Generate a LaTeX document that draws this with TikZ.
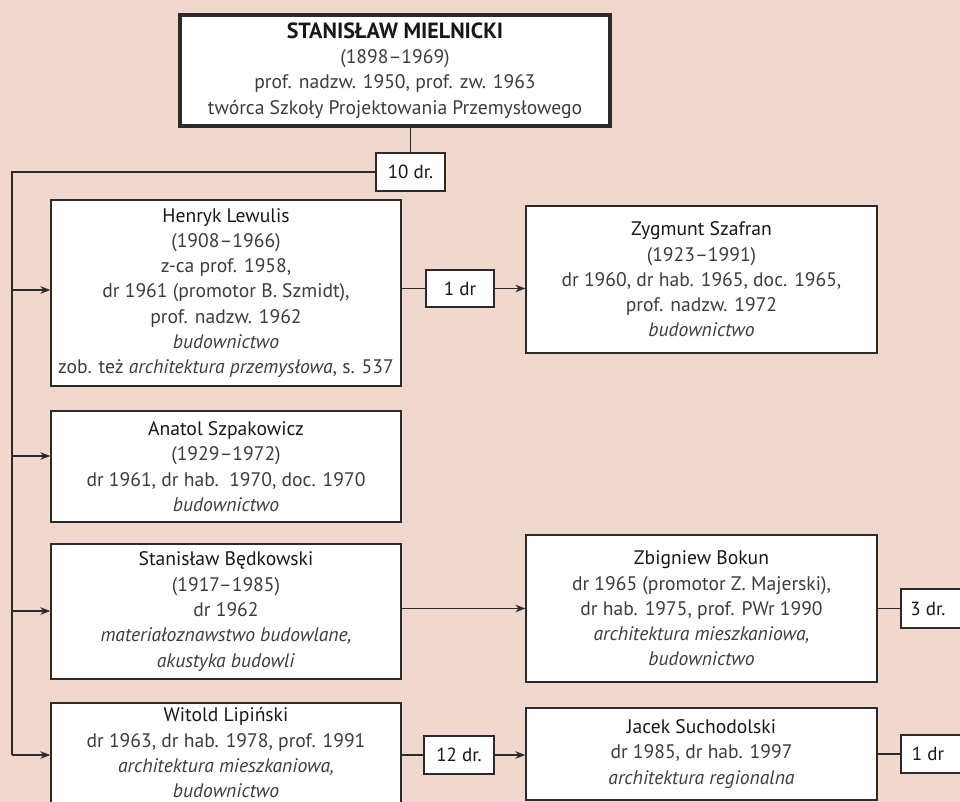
\documentclass[tikz,border=0pt]{standalone}
\usepackage{fontspec}
\setmainfont{PT Sans}
\usetikzlibrary{arrows.meta}

\definecolor{paper}{RGB}{240,216,206}
\definecolor{linec}{RGB}{45,42,42}
\definecolor{nametxt}{RGB}{25,23,23}
\definecolor{bodytxt}{RGB}{62,60,60}

\newcommand{\nm}[1]{{\color{nametxt}#1}}

\begin{document}
\begin{tikzpicture}[x=1pt,y=-1pt,
  person/.style={draw=linec, fill=white, line width=1.3pt, align=center,
    inner sep=0pt, text=bodytxt, font=\fontsize{19.6}{25.3}\selectfont},
  count/.style={draw=linec, fill=white, line width=1.3pt, inner sep=0pt,
    text=nametxt, font=\fontsize{19}{22}\selectfont},
  link/.style={draw=linec, line width=1.3pt},
  arr/.style={link, -{Stealth[length=10pt,width=7.5pt]}}]

\useasboundingbox (0,0) rectangle (960,802);
\clip (0,0) rectangle (960,802);
\fill[paper] (0,0) rectangle (960,802);

% founder
\node[person, line width=4pt, minimum width=430pt, minimum height=111pt] (top) at (395,70.5)
  {\nm{\fontsize{22}{25.3}\selectfont\bfseries STANISŁAW MIELNICKI}\\(1898–1969)\\prof. nadzw. 1950, prof. zw. 1963\\twórca Szkoły Projektowania Przemysłowego};

% doctoral students
\node[person, minimum width=350pt, minimum height=186pt] (lew) at (226,293)
  {\nm{Henryk Lewulis}\\(1908–1966)\\z-ca prof. 1958,\\dr 1961 (promotor B. Szmidt),\\prof. nadzw. 1962\\\textit{budownictwo}\\zob. też \textit{architektura przemysłowa}, s. 537};
\node[person, minimum width=350pt, minimum height=111pt] (szp) at (226,466.5)
  {\nm{Anatol Szpakowicz}\\(1929–1972)\\dr 1961, dr hab.\ \ 1970, doc. 1970\\\textit{budownictwo}};
\node[person, minimum width=350pt, minimum height=135pt] (bed) at (226,611.5)
  {\nm{Stanisław Będkowski}\\(1917–1985)\\dr 1962\\\textit{materiałoznawstwo budowlane,}\\\textit{akustyka budowli}};
\node[person, minimum width=350pt, minimum height=100pt] (lip) at (226,753)
  {\nm{Witold Lipiński}\\dr 1963, dr hab. 1978, prof. 1991\\\textit{architektura mieszkaniowa,}\\\textit{budownictwo}};

% next generation
\node[person, minimum width=351pt, minimum height=147pt] (sza) at (701.5,279.5)
  {\nm{Zygmunt Szafran}\\(1923–1991)\\dr 1960, dr hab. 1965, doc. 1965,\\prof. nadzw. 1972\\\textit{budownictwo}};
\node[person, minimum width=351pt, minimum height=147pt] (bok) at (701.5,608.5)
  {\nm{Zbigniew Bokun}\\dr 1965 (promotor Z. Majerski),\\dr hab. 1975, prof. PWr 1990\\\textit{architektura mieszkaniowa,}\\\textit{budownictwo}};
\node[person, minimum width=351pt, minimum height=92pt] (suc) at (701.5,754)
  {\nm{Jacek Suchodolski}\\dr 1985, dr hab. 1997\\\textit{architektura regionalna}};

% doctorate counts
\node[count, minimum width=69pt, minimum height=38pt] (c10) at (410.5,172) {10 dr.};
\node[count, minimum width=68pt, minimum height=37pt] (c1a) at (460,288.5) {1 dr};
\node[count, minimum width=70pt, minimum height=38pt] (c12) at (459,755) {12 dr.};
\node[count, minimum width=70pt, minimum height=39pt] (c3) at (936,608.5) {\hspace*{-16pt}3 dr.};
\node[count, minimum width=70pt, minimum height=38pt] (c1b) at (936,754) {\hspace*{-16pt}1 dr};

% trunk
\coordinate (corner) at (12,172);
\coordinate (trunkend) at (12,755);
\draw[link] (top.south -| c10.north) -- (c10.north);
\draw[link] (c10.west) -- (corner) -- (trunkend);
\draw[arr] (12,290) -- (lew.west |- 0,290);
\draw[arr] (12,456) -- (szp.west |- 0,456);
\draw[arr] (12,611) -- (bed.west |- 0,611);
\draw[arr] (trunkend) -- (lip.west |- trunkend);

% branches
\draw[link] (lew.east |- c1a) -- (c1a.west);
\draw[arr] (c1a.east) -- (sza.west |- c1a);
\draw[arr] (bed.east |- bok) -- (bok.west);
\draw[link] (lip.east |- c12) -- (c12.west);
\draw[arr] (c12.east) -- (suc.west |- c12);
\draw[link] (bok.east |- c3) -- (c3.west);
\draw[link] (suc.east |- c1b) -- (c1b.west);

\end{tikzpicture}
\end{document}
